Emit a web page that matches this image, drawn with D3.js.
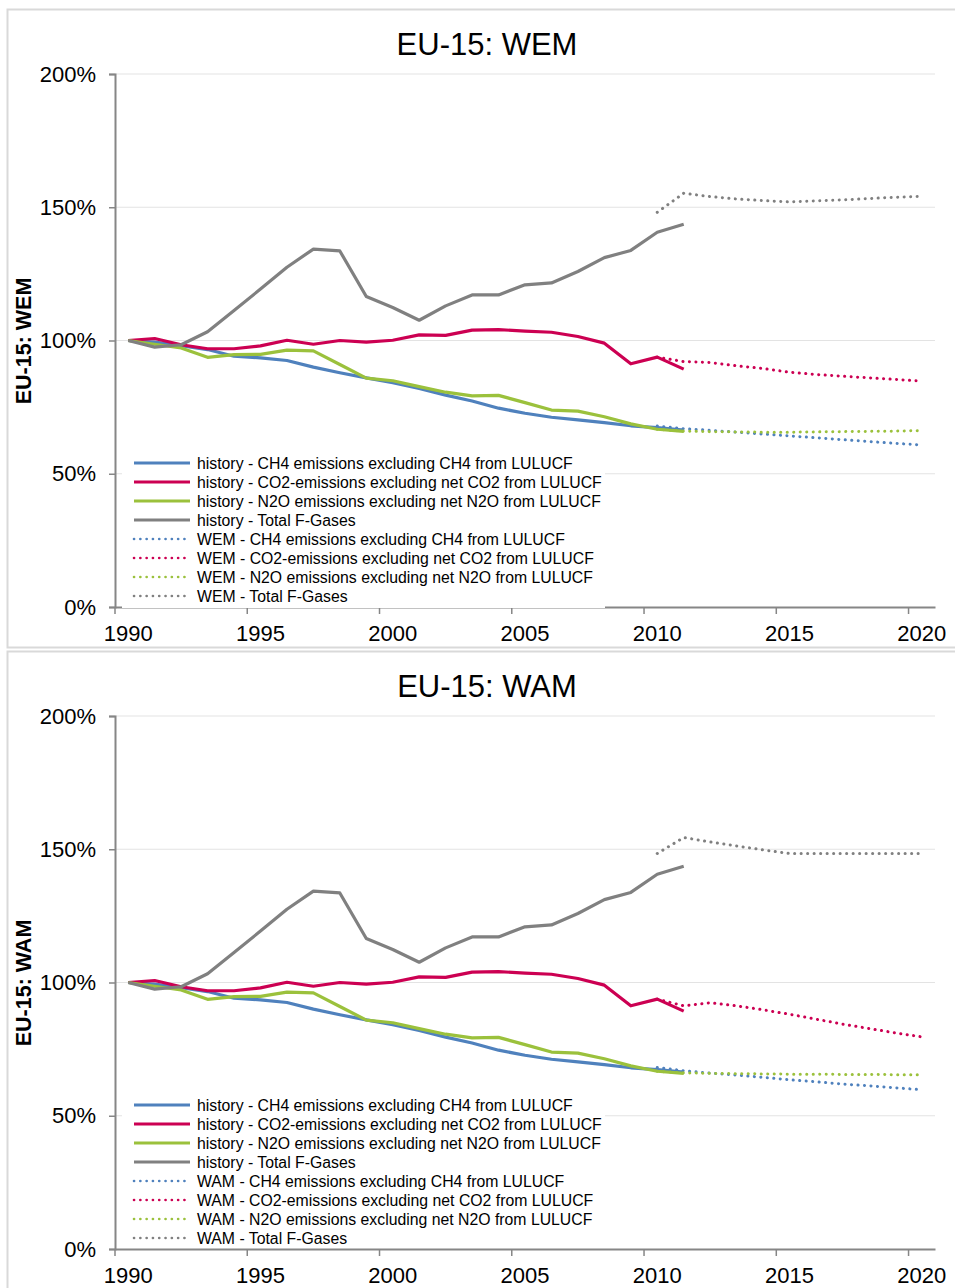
<!DOCTYPE html>
<html>
<head>
<meta charset="utf-8">
<script src="https://cdn.jsdelivr.net/npm/d3@7"></script>
<style>
  html, body { margin: 0; padding: 0; background: #fff; }
  svg { display: block; font-family: "Liberation Sans", Arial, sans-serif; }
</style>
</head>
<body>
<svg id="chart" width="955" height="1288"></svg>
<script>
// ---------- data ----------
const years = [1990,1991,1992,1993,1994,1995,1996,1997,1998,1999,2000,2001,2002,2003,2004,2005,2006,2007,2008,2009,2010,2011,2012,2013,2014,2015,2016,2017,2018,2019,2020];
const histYears = [1990,1991,1992,1993,1994,1995,1996,1997,1998,1999,2000,2001,2002,2003,2004,2005,2006,2007,2008,2009,2010,2011];
const projYears = [2010,2011,2012,2013,2014,2015,2016,2017,2018,2019,2020];
const tickYears = [1990,1995,2000,2005,2010,2015,2020];
const yTicks = [0,50,100,150,200];

const histCH4 = [100,99.4,98.1,96.6,94.1,93.5,92.5,90.0,87.9,86.0,84.2,82.0,79.5,77.3,74.6,72.7,71.2,70.2,69.2,68.0,67.3,66.4];
const histCO2 = [100,100.75,98.4,96.9,96.9,98.0,100.1,98.6,100.0,99.4,100.1,102.1,101.9,103.9,104.1,103.5,103.1,101.5,99.0,91.25,93.75,89.25];
const histN2O = [100,98.6,97.2,93.7,94.7,94.8,96.4,96.1,91.0,85.9,84.9,82.7,80.6,79.2,79.4,76.7,73.9,73.5,71.4,68.7,66.7,65.9];
const histF   = [100,97.5,98.4,103.3,111.3,119.3,127.5,134.3,133.6,116.5,112.4,107.6,113.0,117.1,117.1,120.9,121.6,125.9,131.1,133.8,140.6,143.6];

const wemCH4 = [67.9,66.9,66.3,65.6,64.9,64.2,63.5,62.8,62.1,61.4,60.8];
const wemCO2 = [93.75,92.1,91.75,90.5,89.5,88.1,87.25,86.6,86.0,85.4,84.75];
const wemN2O = [66.7,66.0,65.8,65.7,65.6,65.6,65.7,65.8,65.9,66.0,66.2];
const wemF   = [148.1,155.25,154.0,153.1,152.5,152.0,152.4,152.75,153.25,153.75,154.1];

const wamCH4 = [68.1,66.9,66.0,65.25,64.4,63.5,62.75,61.9,61.25,60.5,59.75];
const wamCO2 = [93.75,91.25,92.4,91.25,89.75,88.1,86.25,84.4,82.75,81.1,79.6];
const wamN2O = [66.7,66.1,65.9,65.8,65.7,65.6,65.6,65.5,65.5,65.4,65.4];
const wamF   = [148.4,154.4,152.75,151.25,149.75,148.4,148.4,148.4,148.4,148.4,148.4];

const gasNames = ["CH4 emissions excluding CH4 from LULUCF",
                  "CO2-emissions excluding net CO2 from LULUCF",
                  "N2O emissions excluding net N2O from LULUCF",
                  "Total F-Gases"];
const colors = ["#4f81bd","#cc0052","#9bc13c","#808080"];

// ---------- drawing ----------
const svg = d3.select("#chart");

function panel(offsetY, scen, proj, legendCoversAxis) {
  const g = svg.append("g").attr("transform", `translate(0,${offsetY})`);
  // frame
  g.append("rect").attr("x",7.5).attr("y",9.5).attr("width",1000).attr("height",638)
    .attr("fill","none").attr("stroke","#d9d9d9").attr("stroke-width",2);

  const x = d3.scaleBand().domain(years).range([115,935]).paddingInner(0).paddingOuter(0);
  const cx = d => x(d) + x.bandwidth()/2;
  const y = d3.scaleLinear().domain([0,200]).range([607,74]);

  // gridlines
  g.append("g").selectAll("line").data(yTicks.filter(v => v > 0)).join("line")
    .attr("x1",115).attr("x2",935).attr("y1",d=>y(d)).attr("y2",d=>y(d))
    .attr("stroke","#e3e3e3").attr("stroke-width",1);

  // title
  g.append("text").attr("x",487).attr("y",55).attr("text-anchor","middle")
    .attr("font-size",31).attr("fill","#000").text("EU-15: " + scen);
  // y title
  g.append("text").attr("transform",`translate(31,341) rotate(-90)`)
    .attr("text-anchor","middle").attr("font-size",21.5).attr("font-weight","bold")
    .attr("fill","#000").text("EU-15: " + scen);

  // y axis
  const ya = g.append("g").attr("transform","translate(115,0)")
    .call(d3.axisLeft(y).tickValues(yTicks).tickFormat(d => d + "%").tickSize(6).tickPadding(13));
  ya.select(".domain").attr("stroke","#868686").attr("stroke-width",2);
  ya.selectAll(".tick line").attr("stroke","#868686").attr("stroke-width",1.5);
  ya.selectAll(".tick text").attr("font-size",22).attr("fill","#000")
    .attr("font-family","Liberation Sans, Arial, sans-serif");

  // x axis
  const xa = g.append("g").attr("transform","translate(0,607)")
    .call(d3.axisBottom(x).tickValues(tickYears).tickSize(0).tickPadding(18));
  xa.select(".domain").attr("stroke","#868686").attr("stroke-width",2);
  xa.selectAll(".tick text").attr("font-size",22).attr("fill","#000")
    .attr("font-family","Liberation Sans, Arial, sans-serif");
  g.append("g").selectAll("line").data(tickYears).join("line")
    .attr("x1",d=>x(d)).attr("x2",d=>x(d)).attr("y1",607).attr("y2",614)
    .attr("stroke","#868686").attr("stroke-width",1.5);

  const line = d3.line().x(d => cx(d[0])).y(d => y(d[1]));
  const hist = [histCH4, histCO2, histN2O, histF];
  hist.forEach((s,i) => {
    g.append("path").datum(histYears.map((yr,j)=>[yr,s[j]]))
      .attr("d",line).attr("fill","none").attr("stroke",colors[i])
      .attr("stroke-width",3.2).attr("stroke-linejoin","round");
  });
  proj.forEach((s,i) => {
    g.append("path").datum(projYears.map((yr,j)=>[yr,s[j]]))
      .attr("d",line).attr("fill","none").attr("stroke",colors[i])
      .attr("stroke-width",3).attr("stroke-linecap","round")
      .attr("stroke-dasharray","0.1,6.4");
  });

  // legend
  g.append("rect").attr("x",122).attr("y",452).attr("width",483)
    .attr("height", legendCoversAxis ? 156 : 154).attr("fill","#fff");
  const labels = gasNames.map(n => "history - " + n).concat(gasNames.map(n => scen + " - " + n));
  labels.forEach((lab,k) => {
    const ly = 463 + k*19;
    const ci = k % 4;
    const ln = g.append("line").attr("x1",134).attr("x2",190).attr("y1",ly).attr("y2",ly)
      .attr("stroke",colors[ci]);
    if (k < 4) ln.attr("stroke-width",3.2);
    else ln.attr("stroke-width",2.6).attr("stroke-linecap","round").attr("stroke-dasharray","0.1,6.2");
    g.append("text").attr("x",197).attr("y",ly+5.7).attr("font-size",15.8)
      .attr("fill","#000").text(lab);
  });
}

panel(0, "WEM", [wemCH4, wemCO2, wemN2O, wemF], true);
panel(642, "WAM", [wamCH4, wamCO2, wamN2O, wamF], false);
</script>
</body>
</html>
